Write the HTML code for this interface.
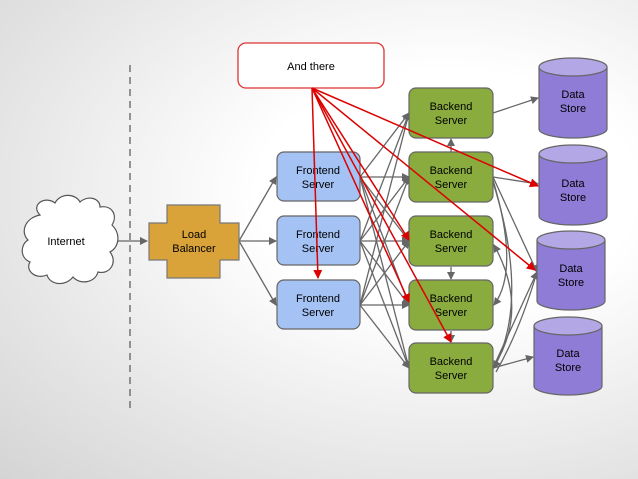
<!DOCTYPE html>
<html><head><style>
body{margin:0;width:638px;height:479px;overflow:hidden;background:radial-gradient(ellipse at 70% 40%,#ffffff 30%,#e6e6e6 70%,#d4d4d4 100%);font-family:"Liberation Sans",sans-serif}
svg{position:absolute;left:0;top:0}
</style></head><body>
<svg width="638" height="479" viewBox="0 0 638 479" font-family="Liberation Sans, sans-serif" font-size="11" text-anchor="middle">
<defs>
<marker id="g" markerWidth="8" markerHeight="8" refX="7" refY="4" orient="auto" markerUnits="userSpaceOnUse"><path d="M0,0 L8,4 L0,8z" fill="#666"/></marker>
<marker id="r" markerWidth="9" markerHeight="9" refX="8" refY="4.5" orient="auto" markerUnits="userSpaceOnUse"><path d="M0,0 L9,4.5 L0,9z" fill="#d00"/></marker>
</defs>
<line x1="130" y1="65" x2="130" y2="410" stroke="#555" stroke-width="1.2" stroke-dasharray="7,5"/>
<g stroke="#666" stroke-width="1.3" fill="none" marker-end="url(#g)">
<line x1="117" y1="241" x2="147" y2="241"/>
<line x1="239" y1="241" x2="276" y2="177"/>
<line x1="239" y1="241" x2="276" y2="241"/>
<line x1="239" y1="241" x2="276" y2="305"/>
<line x1="360" y1="177" x2="409" y2="113"/><line x1="360" y1="177" x2="409" y2="177"/><line x1="360" y1="177" x2="409" y2="241"/><line x1="360" y1="177" x2="409" y2="305"/><line x1="360" y1="177" x2="409" y2="368"/>
<line x1="360" y1="241" x2="409" y2="113"/><line x1="360" y1="241" x2="409" y2="177"/><line x1="360" y1="241" x2="409" y2="241"/><line x1="360" y1="241" x2="409" y2="305"/><line x1="360" y1="241" x2="409" y2="368"/>
<line x1="360" y1="305" x2="409" y2="113"/><line x1="360" y1="305" x2="409" y2="177"/><line x1="360" y1="305" x2="409" y2="241"/><line x1="360" y1="305" x2="409" y2="305"/><line x1="360" y1="305" x2="409" y2="368"/>
<line x1="493" y1="113" x2="538" y2="98"/>
<line x1="493" y1="177" x2="538" y2="184"/>
<line x1="493" y1="368" x2="533" y2="357"/>
<line x1="451" y1="152" x2="451" y2="139"/>
<line x1="451" y1="267" x2="451" y2="279"/>
<line x1="451" y1="331" x2="451" y2="342"/>
<line x1="493" y1="177" x2="537" y2="272"/>
<path d="M493,180 Q520,270 494,305"/>
<path d="M493,182 Q530,300 494,368"/>
<path d="M493,368 Q530,310 494,245"/>
<path d="M493,368 Q515,320 537,272"/>
<path d="M496,372 Q520,330 537,272"/>
</g>
<path d="M40,215 C30,205 45,195 55,203 C60,193 75,193 80,202 C88,195 100,198 100,207 C112,205 118,215 112,225 C122,235 118,248 110,252 C118,262 110,275 98,272 C95,283 80,285 73,277 C65,287 50,285 47,275 C35,280 25,270 30,262 C20,258 20,245 28,240 C20,232 25,218 40,215 Z" fill="#fff" stroke="#555" stroke-width="1.2"/>
<text x="66" y="245">Internet</text>
<path d="M167,205 H220 V223 H239 V260 H220 V278 H167 V260 H149 V223 H167 Z" fill="#d9a33a" stroke="#777" stroke-width="1.2"/>
<text x="194" y="238">Load</text><text x="194" y="252">Balancer</text>
<g fill="#a4c2f4" stroke="#666" stroke-width="1.2">
<rect x="277" y="152" width="83" height="49" rx="7"/>
<rect x="277" y="216" width="83" height="49" rx="7"/>
<rect x="277" y="280" width="83" height="49" rx="7"/>
</g>
<g><text x="318" y="174">Frontend</text><text x="318" y="188">Server</text>
<text x="318" y="238">Frontend</text><text x="318" y="252">Server</text>
<text x="318" y="302">Frontend</text><text x="318" y="316">Server</text></g>
<g fill="#8aab3e" stroke="#666" stroke-width="1.2">
<rect x="409" y="88" width="84" height="50" rx="7"/>
<rect x="409" y="152" width="84" height="50" rx="7"/>
<rect x="409" y="216" width="84" height="50" rx="7"/>
<rect x="409" y="280" width="84" height="50" rx="7"/>
<rect x="409" y="343" width="84" height="50" rx="7"/>
</g>
<g><text x="451" y="110">Backend</text><text x="451" y="124">Server</text>
<text x="451" y="174">Backend</text><text x="451" y="188">Server</text>
<text x="451" y="238">Backend</text><text x="451" y="252">Server</text>
<text x="451" y="302">Backend</text><text x="451" y="316">Server</text>
<text x="451" y="365">Backend</text><text x="451" y="379">Server</text></g>
<g stroke="#666" stroke-width="1.2">
<path d="M539,67 V129 A34,9 0 0 0 607,129 V67" fill="#8e7cd6"/><ellipse cx="573" cy="67" rx="34" ry="9" fill="#b4a7e5"/>
<path d="M539,154 V216 A34,9 0 0 0 607,216 V154" fill="#8e7cd6"/><ellipse cx="573" cy="154" rx="34" ry="9" fill="#b4a7e5"/>
<path d="M537,240 V301 A34,9 0 0 0 605,301 V240" fill="#8e7cd6"/><ellipse cx="571" cy="240" rx="34" ry="9" fill="#b4a7e5"/>
<path d="M534,326 V386 A34,9 0 0 0 602,386 V326" fill="#8e7cd6"/><ellipse cx="568" cy="326" rx="34" ry="9" fill="#b4a7e5"/>
</g>
<g><text x="573" y="98">Data</text><text x="573" y="112">Store</text>
<text x="573" y="187">Data</text><text x="573" y="201">Store</text>
<text x="571" y="272">Data</text><text x="571" y="286">Store</text>
<text x="568" y="357">Data</text><text x="568" y="371">Store</text></g>
<rect x="238" y="43" width="146" height="45" rx="8" fill="#fff" stroke="#d33" stroke-width="1.3"/>
<text x="311" y="70">And there</text>
<g stroke="#d00" stroke-width="1.5" fill="none" marker-end="url(#r)">
<line x1="312" y1="88" x2="318" y2="278"/>
<line x1="312" y1="88" x2="409" y2="240"/>
<line x1="312" y1="88" x2="409" y2="302"/>
<line x1="312" y1="88" x2="451" y2="342"/>
<line x1="312" y1="88" x2="538" y2="186"/>
<line x1="312" y1="88" x2="535" y2="270"/>
</g>
</svg>
</body></html>
